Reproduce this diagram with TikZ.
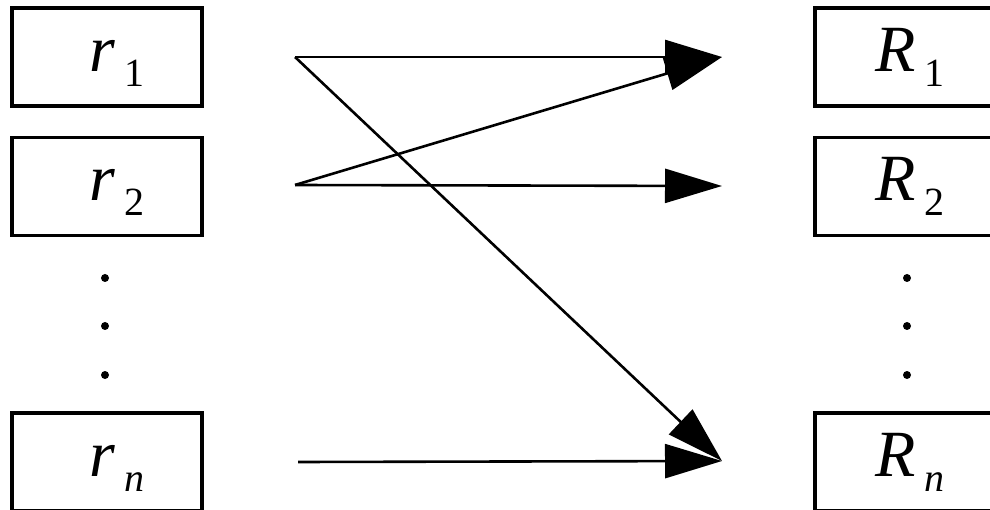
\documentclass[tikz,border=0pt]{standalone}
\usepackage{fontspec}
\setmainfont{Liberation Serif}
\usetikzlibrary{arrows.meta}
\newcommand{\idx}[2]{\textit{#1}\vphantom{R}\kern9pt\raisebox{-15pt}{\fontsize{40}{40}\selectfont #2}}
\tikzset{box/.style={draw,line width=3.2pt,minimum width=190pt,minimum height=98pt,inner sep=0pt,font=\fontsize{66}{70}\selectfont},flow/.style={-{Triangle[length=57pt,width=34pt]},line width=2.6pt}}
\begin{document}
\begin{tikzpicture}[x=1pt,y=-1pt]
        \useasboundingbox(0,0)rectangle(990,510);
        \clip(0,0)rectangle(990,510);
        \node[box](r1)at(107,57){\hspace*{20pt}\idx{r}{1}};
        \node[box](r2)at(107,186.5){\hspace*{20pt}\idx{r}{2}};
        \node[box](rn)at(107,462){\hspace*{20pt}\idx{r}{\textit{n}}};
        \node[box](R1)at(910,57){\idx{R}{1}};
        \node[box](R2)at(910,186.5){\idx{R}{2}};
        \node[box](Rn)at(910,462){\idx{R}{\textit{n}}};
        \foreach \y in {278,326,375}{
          \fill(105,\y)circle(4);
          \fill(907,\y)circle(4);
        }
        \coordinate(s1)at(295,57);
        \coordinate(s2)at(295,185);
        \coordinate(sn)at(298,462);
        \coordinate(t1)at(722,57);
        \coordinate(t2)at(722,186);
        \coordinate(tn)at(722,461);
        \draw[flow](s1)--(t1);
        \draw[flow](s1)--(tn);
        \draw[flow](s2)--(t1);
        \draw[flow](s2)--(t2);
        \draw[flow](sn)--(tn);
\end{tikzpicture}
\end{document}
